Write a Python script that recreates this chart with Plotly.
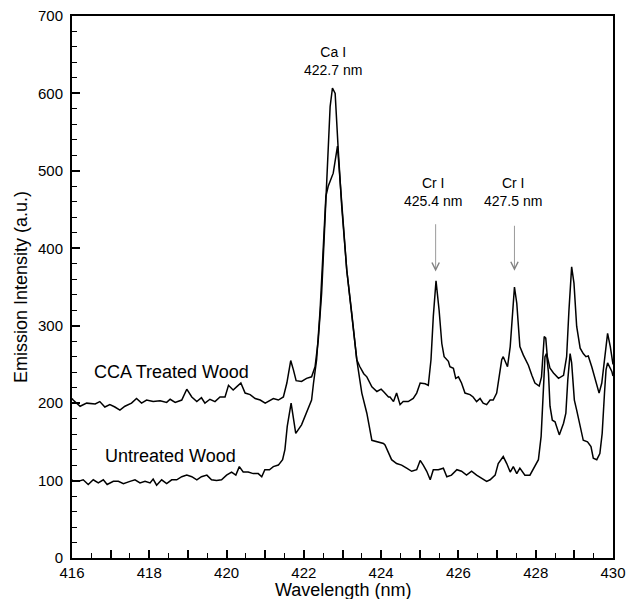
import plotly.graph_objects as go

# CCA treated wood spectrum (wavelength nm, intensity a.u.)
cca_x = [416.0, 416.03, 416.21, 416.38, 416.6, 416.72, 416.85, 416.98, 417.11, 417.24, 417.37, 417.54, 417.67, 417.80,
         417.93, 418.10, 418.28, 418.45, 418.54, 418.67, 418.84, 418.97, 419.10, 419.23, 419.35, 419.44,
         419.57, 419.70, 419.83, 419.96, 420.05, 420.17, 420.28, 420.37, 420.48, 420.61, 420.74, 420.87,
         421.00, 421.08, 421.21, 421.34, 421.47, 421.56, 421.66, 421.73, 421.80, 421.94, 422.07, 422.20,
         422.29, 422.37, 422.46, 422.50, 422.59, 422.68, 422.74, 422.81, 422.89, 422.98, 423.11, 423.24,
         423.37, 423.45, 423.55, 423.63, 423.70, 423.76, 423.89, 424.00, 424.06, 424.19, 424.23, 424.32,
         424.40, 424.49, 424.57, 424.70, 424.83, 424.92, 425.01, 425.14, 425.22, 425.29, 425.35, 425.42,
         425.50, 425.57, 425.63, 425.74, 425.78, 425.87, 425.93, 426.00, 426.08, 426.17, 426.30, 426.38,
         426.47, 426.56, 426.64, 426.73, 426.82, 426.90, 426.99, 427.08, 427.12, 427.16, 427.27, 427.34,
         427.40, 427.45, 427.51, 427.59, 427.68, 427.81, 427.90, 427.98, 428.09, 428.15, 428.22, 428.26,
         428.30, 428.37, 428.46, 428.59, 428.72, 428.80, 428.86, 428.93, 428.99, 429.06, 429.15, 429.23,
         429.30, 429.36, 429.45, 429.54, 429.64, 429.71, 429.78, 429.86, 429.93, 429.97, 430.0]
cca_y = [206, 204, 196, 200, 199, 202, 195, 198, 195, 191, 196, 200, 206, 200,
         204, 202, 203, 201, 205, 201, 204, 218, 208, 202, 207, 200,
         205, 202, 208, 208, 223, 217, 222, 226, 213, 211, 206, 204,
         200, 202, 206, 204, 208, 226, 255, 243, 229, 228, 232, 234,
         247, 280, 342, 385, 478, 583, 607, 600, 527, 454, 372, 316,
         256, 247, 238, 234, 228, 221, 215, 218, 215, 208, 208, 202,
         213, 198, 202, 202, 206, 213, 226, 225, 223, 256, 312, 358,
         320, 277, 260, 254, 247, 245, 232, 234, 226, 213, 211, 208,
         202, 206, 200, 198, 204, 204, 213, 243, 256, 260, 247, 273,
         320, 350, 329, 273, 262, 249, 236, 226, 222, 234, 286, 284,
         260, 245, 239, 232, 236, 260, 320, 376, 355, 299, 271, 264,
         260, 261, 247, 232, 213, 226, 256, 290, 273, 256, 250]

# Untreated wood spectrum
unt_x = [416.0, 416.03, 416.16, 416.29, 416.42, 416.55, 416.68, 416.81, 416.91, 417.07, 417.20, 417.33, 417.50,
         417.63, 417.76, 417.89, 418.02, 418.10, 418.19, 418.32, 418.45, 418.58, 418.71, 418.84, 418.97,
         419.10, 419.23, 419.35, 419.49, 419.61, 419.74, 419.87, 420.00, 420.13, 420.24, 420.33, 420.43,
         420.56, 420.69, 420.82, 420.91, 420.99, 421.11, 421.21, 421.34, 421.45, 421.51, 421.57, 421.67,
         421.79, 421.94, 422.07, 422.20, 422.25, 422.33, 422.42, 422.49, 422.50, 422.57, 422.63, 422.76,
         422.87, 422.98, 423.11, 423.24, 423.37, 423.50, 423.63, 423.76, 423.89, 424.06, 424.10, 424.19,
         424.27, 424.40, 424.53, 424.66, 424.79, 424.92, 425.01, 425.09, 425.18, 425.27, 425.35, 425.48,
         425.61, 425.70, 425.82, 425.96, 426.08, 426.21, 426.34, 426.47, 426.60, 426.73, 426.82, 426.95,
         427.03, 427.16, 427.25, 427.34, 427.42, 427.51, 427.59, 427.72, 427.85, 427.98, 428.07, 428.14,
         428.20, 428.24, 428.28, 428.33, 428.37, 428.43, 428.50, 428.61, 428.72, 428.78, 428.83, 428.89,
         428.93, 429.00, 429.06, 429.15, 429.23, 429.34, 429.43, 429.49, 429.58, 429.66, 429.72, 429.78,
         429.82, 429.86, 429.93, 429.97, 430.0]
unt_y = [101, 99, 99, 101, 95, 101, 97, 101, 95, 99, 99, 96, 99,
         101, 97, 99, 97, 102, 94, 101, 96, 101, 101, 105, 107,
         105, 101, 105, 107, 101, 100, 101, 107, 111, 107, 118, 111,
         111, 109, 109, 105, 114, 114, 118, 120, 127, 140, 170, 200,
         161, 172, 188, 204, 226, 256, 320, 385, 411, 467, 480, 497,
         532, 454, 372, 316, 256, 213, 187, 152, 150, 148, 146, 137,
         127, 122, 120, 116, 112, 114, 126, 120, 112, 101, 114, 114,
         116, 105, 107, 114, 112, 107, 112, 107, 103, 99, 101, 107,
         122, 131, 122, 111, 118, 109, 116, 107, 107, 118, 127, 157,
         226, 260, 264, 239, 196, 178, 176, 159, 174, 187, 230, 264,
         252, 204, 191, 170, 152, 150, 144, 129, 127, 135, 161, 213,
         243, 252, 245, 241, 235]

x_tickvals = list(range(416, 431))
x_ticktext = [str(v) if v % 2 == 0 else "" for v in x_tickvals]
y_tickvals = list(range(0, 701, 100))

FONT = "Liberation Sans, Arial, Helvetica, sans-serif"

fig = go.Figure()
fig.add_trace(go.Scatter(x=cca_x, y=cca_y, mode="lines", line=dict(color="black", width=1.5),
                         name="CCA Treated Wood", showlegend=False))
fig.add_trace(go.Scatter(x=unt_x, y=unt_y, mode="lines", line=dict(color="black", width=1.5),
                         name="Untreated Wood", showlegend=False))

# Labels
fig.add_annotation(x=418.57, y=240, text="CCA Treated Wood", showarrow=False,
                   font=dict(size=18, color="black", family=FONT))
fig.add_annotation(x=418.55, y=132, text="Untreated Wood", showarrow=False,
                   font=dict(size=18, color="black", family=FONT))
fig.add_annotation(x=422.75, y=642, text="Ca I<br>422.7 nm", showarrow=False,
                   font=dict(size=14, color="black", family=FONT))
fig.add_annotation(x=425.35, y=473, text="Cr I<br>425.4 nm", showarrow=False,
                   font=dict(size=14, color="black", family=FONT))
fig.add_annotation(x=427.4, y=473, text="Cr I<br>427.5 nm", showarrow=False,
                   font=dict(size=14, color="black", family=FONT))

# Arrows
for ax_x, tip_y, tail_y in [(425.41, 370, 433), (427.45, 371, 431)]:
    fig.add_annotation(x=ax_x, y=tip_y, ax=ax_x, ay=tail_y, axref="x", ayref="y",
                       xref="x", yref="y", text="", showarrow=True,
                       arrowhead=5, arrowsize=1.8, arrowwidth=0.8, arrowcolor="#808080")

# X-axis title (placed just below tick labels)
fig.add_annotation(x=0.5, y=0, xref="paper", yref="paper", yanchor="top", yshift=-20,
                   text="Wavelength (nm)", showarrow=False,
                   font=dict(size=18, color="black", family=FONT))

fig.update_xaxes(range=[416, 430], tickmode="array", tickvals=x_tickvals, ticktext=x_ticktext,
                 ticks="inside", ticklen=8, tickwidth=1.5, tickcolor="black",
                 minor=dict(tickmode="linear", tick0=416, dtick=0.5, ticks="inside", ticklen=5,
                            tickwidth=1.2, tickcolor="black"),
                 showline=True, linewidth=2, linecolor="black", mirror=True,
                 showgrid=False, zeroline=False,
                 tickfont=dict(size=15, color="black", family=FONT))
fig.update_yaxes(range=[0, 700], tickmode="array", tickvals=y_tickvals,
                 ticks="inside", ticklen=8, tickwidth=1.5, tickcolor="black",
                 minor=dict(tickmode="linear", tick0=0, dtick=20, ticks="inside", ticklen=5,
                            tickwidth=1.2, tickcolor="black"),
                 showline=True, linewidth=2, linecolor="black", mirror=True,
                 showgrid=False, zeroline=False, ticklabelstandoff=4,
                 tickfont=dict(size=15, color="black", family=FONT),
                 title=dict(text="Emission Intensity (a.u.)", font=dict(size=18, color="black", family=FONT),
                            standoff=6))

fig.update_layout(width=635, height=599, margin=dict(l=72, r=22, t=16, b=41, autoexpand=False),
                  plot_bgcolor="white", paper_bgcolor="white", showlegend=False)

fig.write_html("out.html")
